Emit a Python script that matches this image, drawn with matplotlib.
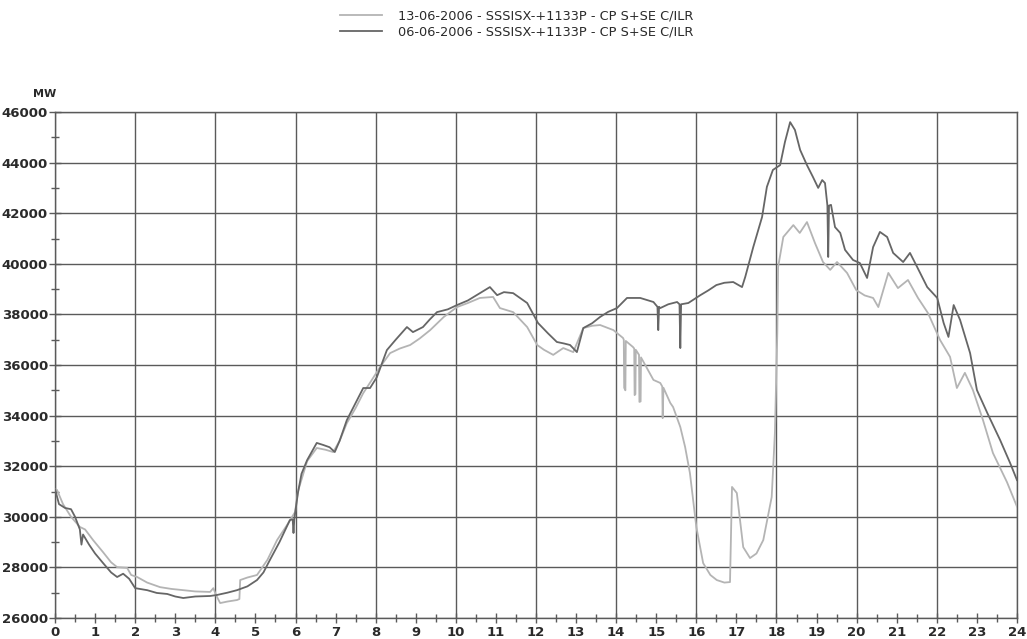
import matplotlib
matplotlib.use("Agg")
import matplotlib.pyplot as plt
from matplotlib.ticker import MultipleLocator

# 06-06-2006 load curve (hours, MW)
hours_0606 = [
    0.0, 0.1, 0.25, 0.4, 0.5, 0.62, 0.66, 0.70, 0.85, 1.0,
    1.2, 1.4, 1.55, 1.7, 1.85, 2.0, 2.3, 2.54, 2.8, 3.0,
    3.2, 3.5, 3.87, 4.04, 4.3, 4.54, 4.8, 5.04, 5.2, 5.36,
    5.6, 5.86, 5.93, 5.95, 5.97, 6.06, 6.15, 6.29, 6.53, 6.69,
    6.85, 6.98, 7.1, 7.28, 7.5, 7.69, 7.86, 8.03, 8.28, 8.5,
    8.78, 8.93, 9.18, 9.35, 9.53, 9.8, 10.03, 10.3, 10.6, 10.85,
    11.03, 11.2, 11.43, 11.6, 11.78, 12.05, 12.3, 12.52, 12.7, 12.85,
    13.02, 13.18, 13.4, 13.6, 13.8, 14.02, 14.27, 14.6, 14.93, 15.03,
    15.05, 15.07, 15.1, 15.3, 15.52, 15.58, 15.6, 15.62, 15.8, 16.1,
    16.3, 16.5, 16.7, 16.92, 17.14, 17.22, 17.42, 17.64, 17.76, 17.91,
    18.09, 18.21, 18.34, 18.46, 18.59, 18.76, 18.91, 19.04, 19.14, 19.21,
    19.27, 19.29, 19.31, 19.36, 19.46, 19.59, 19.71, 19.91, 20.08, 20.26,
    20.41, 20.58, 20.76, 20.91, 21.16, 21.33, 21.51, 21.76, 22.01, 22.17,
    22.29, 22.42, 22.58, 22.83, 23.0, 23.26, 23.58, 23.83, 24.0,
]
mw_0606 = [
    31100, 30500, 30350, 30300, 30000, 29500, 28900, 29300, 28900, 28550,
    28170, 27800, 27620, 27750, 27550, 27180, 27100, 26990, 26950, 26850,
    26790, 26850, 26870, 26910, 27000, 27100, 27250, 27500, 27800, 28290,
    29000, 29870, 29900, 29360, 29900, 30940, 31700, 32240, 32920, 32840,
    32750, 32560, 33000, 33820, 34500, 35090, 35090, 35520, 36590, 37000,
    37500, 37300, 37500, 37800, 38090, 38200, 38370, 38550, 38840, 39080,
    38760, 38880, 38840, 38650, 38450, 37660, 37250, 36910, 36850, 36790,
    36510, 37460, 37650, 37900, 38100, 38250, 38650, 38650, 38490, 38300,
    37380, 38300, 38250, 38400, 38490, 38400, 36670, 38400, 38450, 38760,
    38950, 39160, 39250, 39280, 39080, 39480, 40660, 41850, 43040, 43710,
    43900, 44810, 45600, 45290, 44500, 43900, 43430, 43000, 43310, 43190,
    42300, 40270, 42300, 42330, 41450, 41220, 40550, 40150, 40030, 39440,
    40660, 41260, 41060, 40430, 40070, 40430, 39870, 39080, 38650, 37660,
    37110, 38370, 37780, 36470, 35010, 34100, 33030, 32120, 31450,
]

# 13-06-2006 load curve (hours, MW)
hours_1306 = [
    0.0, 0.05, 0.2, 0.4, 0.62, 0.75, 0.95, 1.2, 1.4, 1.55,
    1.8, 1.9, 2.05, 2.3, 2.62, 2.9, 3.2, 3.5, 3.87, 3.95,
    4.02, 4.12, 4.3, 4.54, 4.6, 4.62, 4.8, 5.04, 5.3, 5.54,
    5.8, 5.99, 6.06, 6.29, 6.53, 6.75, 6.94, 7.1, 7.28, 7.5,
    7.69, 7.9, 8.11, 8.36, 8.6, 8.86, 9.1, 9.36, 9.7, 10.03,
    10.3, 10.6, 10.93, 11.1, 11.43, 11.78, 12.03, 12.2, 12.43, 12.68,
    12.93, 13.18, 13.4, 13.6, 13.93, 14.17, 14.19, 14.20, 14.23, 14.24,
    14.42, 14.45, 14.46, 14.48, 14.49, 14.57, 14.58, 14.61, 14.62, 14.93,
    15.1, 15.15, 15.16, 15.18, 15.35, 15.42, 15.6, 15.72, 15.84, 16.0,
    16.17, 16.35, 16.51, 16.7, 16.84, 16.89, 17.01, 17.17, 17.34, 17.5,
    17.67, 17.88, 17.96, 18.02, 18.04, 18.17, 18.42, 18.58, 18.76, 18.96,
    19.16, 19.34, 19.51, 19.76, 19.99, 20.2, 20.41, 20.54, 20.79, 21.03,
    21.28, 21.53, 21.78, 22.08, 22.33, 22.5, 22.7, 22.9, 23.15, 23.4,
    23.75, 24.0,
]
mw_1306 = [
    31100, 31060, 30500, 30000, 29600, 29500, 29080, 28600, 28200, 28010,
    27980, 27700, 27620, 27400, 27220, 27150, 27100, 27050, 27030, 27180,
    26900, 26590, 26650, 26710, 26750, 27500, 27600, 27700, 28300, 29080,
    29700, 30190, 31000, 32200, 32720, 32650, 32560, 33000, 33700, 34300,
    34890, 35400, 35920, 36470, 36650, 36790, 37050, 37380, 37900, 38290,
    38450, 38650, 38690, 38250, 38090, 37500, 36790, 36600, 36400, 36670,
    36510, 37460, 37550, 37580, 37380, 37070, 37000, 35100, 35000, 36950,
    36710, 36650, 34810, 34850, 36600, 36400, 34540, 34560, 36300, 35410,
    35290, 35150, 33900, 35100, 34500, 34340, 33550, 32760, 31730, 29600,
    28170, 27700, 27500, 27400, 27420, 31180, 30940, 28800, 28370, 28550,
    29080, 30780, 33310, 37260, 39870, 41060, 41530, 41220, 41650, 40820,
    40070, 39760, 40070, 39640, 38960, 38750, 38650, 38290, 39640, 39040,
    39360, 38650, 38050, 36990, 36320, 35090, 35690, 35010, 33830, 32520,
    31370, 30400,
]

labels = [
    "13-06-2006 - SSSISX-+1133P - CP S+SE C/ILR",
    "06-06-2006 - SSSISX-+1133P - CP S+SE C/ILR",
]
x_ticks = list(range(0, 25))
y_ticks = list(range(26000, 46001, 2000))

light = "#b4b4b4"
dark = "#666666"
grid = "#5a5a5a"
txt = "#2a2a2a"

fig = plt.figure(figsize=(10.27, 6.39), dpi=100)
W, H = 1027, 639
left, right, top, bottom = 55, 1017, 112, 618
ax = fig.add_axes([left / W, (H - bottom) / H, (right - left) / W, (bottom - top) / H])

ax.plot(hours_1306, mw_1306, color=light, lw=1.3, label=labels[0], zorder=3)
ax.plot(hours_0606, mw_0606, color=dark, lw=1.3, label=labels[1], zorder=4)

ax.set_xlim(0, 24)
ax.set_ylim(26000, 46000)

ax.set_xticks(x_ticks)
ax.set_xticklabels([str(v) for v in x_ticks])
ax.xaxis.set_minor_locator(MultipleLocator(0.5))
ax.set_yticks(y_ticks)
ax.set_yticklabels([str(v) for v in y_ticks])
ax.yaxis.set_minor_locator(MultipleLocator(1000))

for lab in ax.get_xticklabels() + ax.get_yticklabels():
    lab.set_fontweight("bold")
    lab.set_fontsize(9.5)
    lab.set_color(txt)

ax.tick_params(axis="both", which="both", direction="inout", color=grid, width=1)
ax.tick_params(axis="x", which="major", length=7, pad=2)
ax.tick_params(axis="x", which="minor", length=6)
ax.tick_params(axis="y", which="major", length=8, pad=1)
ax.tick_params(axis="y", which="minor", length=6)

# grid: every 2 hours vertically, every 2000 MW horizontally
for xv in range(0, 25, 2):
    ax.axvline(xv, color=grid, lw=1, zorder=1)
for yv in y_ticks:
    ax.axhline(yv, color=grid, lw=1, zorder=1)

for sp in ax.spines.values():
    sp.set_color(grid)
    sp.set_linewidth(1)

fig.text(45 / W, 1 - 94 / H, "MW", fontsize=8, fontweight="bold", color=txt,
         ha="center", va="center")

fig.legend(loc="upper center", bbox_to_anchor=(0.503, 1.0), frameon=False,
           fontsize=9.3, handlelength=3.25, handletextpad=1.25, labelspacing=0.22,
           borderaxespad=0.35, labelcolor=txt)

fig.savefig("out.png", dpi=100, facecolor="white")
